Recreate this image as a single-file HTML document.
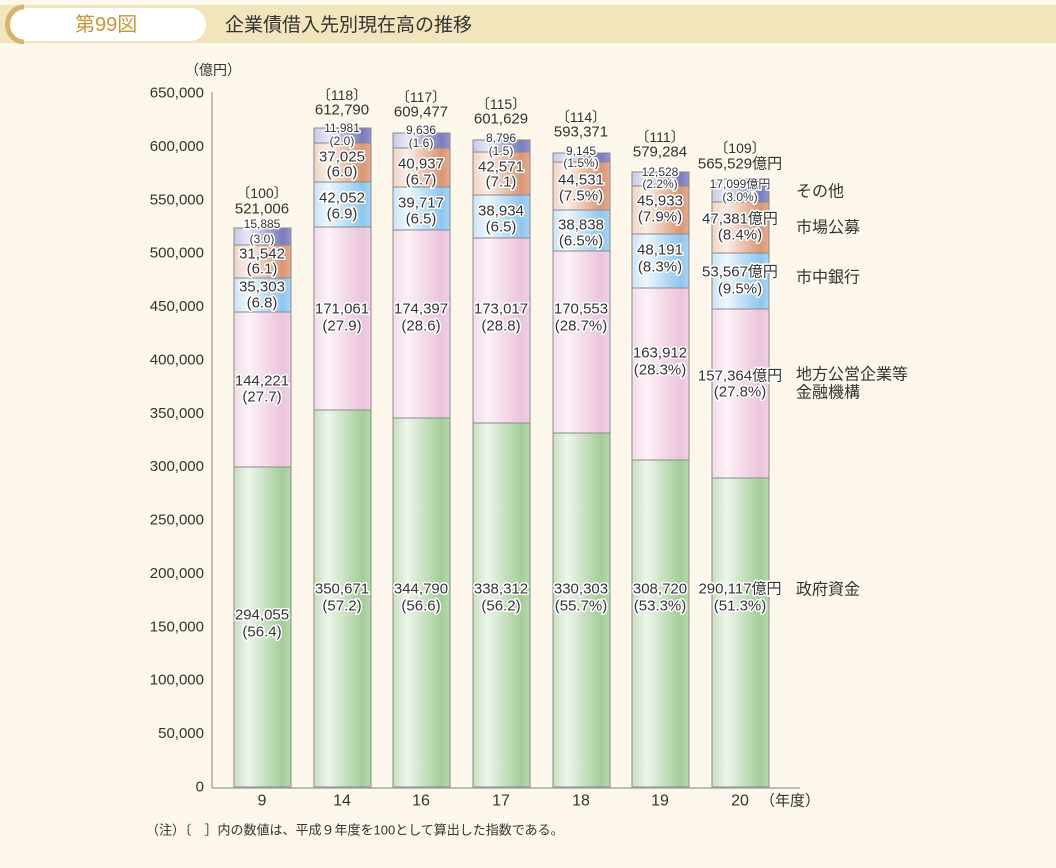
<!DOCTYPE html>
<html><head><meta charset="utf-8"><style>
body{margin:0;background:#fcf7ea;width:1056px;height:863px;overflow:hidden;font-family:"Liberation Sans","Noto Sans CJK JP",sans-serif}
</style></head><body>
<svg width="1056" height="863" xmlns="http://www.w3.org/2000/svg" font-family="Liberation Sans, Noto Sans CJK JP, sans-serif">
<defs>
<linearGradient id="g" x1="0" x2="1"><stop offset="0" stop-color="#c6dfbd"/><stop offset=".25" stop-color="#eef5ec"/><stop offset=".85" stop-color="#a3cd98"/><stop offset="1" stop-color="#b9d9b0"/></linearGradient>
<linearGradient id="p" x1="0" x2="1"><stop offset="0" stop-color="#f3dbe8"/><stop offset=".25" stop-color="#fcf1f7"/><stop offset=".85" stop-color="#ebc4dc"/><stop offset="1" stop-color="#f0d2e3"/></linearGradient>
<linearGradient id="b" x1="0" x2="1"><stop offset="0" stop-color="#c9e3f7"/><stop offset=".25" stop-color="#eef7fd"/><stop offset=".85" stop-color="#8ec6ef"/><stop offset="1" stop-color="#acd4f2"/></linearGradient>
<linearGradient id="o" x1="0" x2="1"><stop offset="0" stop-color="#f0d2c3"/><stop offset=".25" stop-color="#fbeee6"/><stop offset=".85" stop-color="#da9675"/><stop offset="1" stop-color="#e3ad92"/></linearGradient>
<linearGradient id="v" x1="0" x2="1"><stop offset="0" stop-color="#c8c9e8"/><stop offset=".25" stop-color="#e6e7f5"/><stop offset=".85" stop-color="#7a7cbc"/><stop offset="1" stop-color="#9596cb"/></linearGradient>
</defs>
<rect x="0" y="5" width="1056" height="38" fill="#f3e5bb"/>
<rect x="8" y="8" width="198" height="33" rx="16" fill="#fff"/>
<path d="M24 7 A16 17 0 0 0 24 42" fill="none" stroke="#d7b370" stroke-width="5"/>
<text x="75" y="31" font-size="20" fill="#c8963c">第99図</text>
<text x="225" y="31" font-size="19" fill="#333">企業債借入先別現在高の推移</text>
<rect x="6" y="44" width="1044" height="814" fill="#fcf7ea"/>
<g id="chart"></g>
</svg>
<script>
const NS="http://www.w3.org/2000/svg",C=document.getElementById('chart');
function el(t,a,txt){const e=document.createElementNS(NS,t);for(const k in a)e.setAttribute(k,a[k]);if(txt!=null)e.textContent=txt;C.appendChild(e);return e;}
function T(x,y,s,fs,halo,anchor){const a={x:x,y:y,'font-size':fs||14,fill:'#333','text-anchor':anchor||'middle','dominant-baseline':'central'};if(halo){a.stroke='#fff';a['stroke-width']=3;a['paint-order']='stroke';a['stroke-linejoin']='round';}el('text',a,s);}
const y0=787,k=694/650;
for(let i=0;i<=13;i++){const v=i*50000;T(204,y0-i*50*k,v.toLocaleString('en-US'),15,false,'end');}
el('line',{x1:212,y1:92,x2:212,y2:788,stroke:'#aaa','stroke-width':1.5});
el('line',{x1:212,y1:788,x2:800,y2:788,stroke:'#aaa','stroke-width':1.5});
T(185,70,'（億円）',14,false,'start');
const bars=[
{x:262,c:'9',b:[228,245,278,312,467],idx:'〔100〕',tot:'521,006',ty:[193,209],
 L:[['15,885','(3.0)',224,239,12],['31,542','(6.1)',254,269,15],['35,303','(6.8)',287,303,15],['144,221','(27.7)',381,397,15],['294,055','(56.4)',615,632,15]]},
{x:342,c:'14',b:[128,143,182,227,410],idx:'〔118〕',tot:'612,790',ty:[95,110],
 L:[['11,981','(2.0)',128,141,12],['37,025','(6.0)',157,172,15],['42,052','(6.9)',198,214,15],['171,061','(27.9)',309,326,15],['350,671','(57.2)',589,606,15]]},
{x:421,c:'16',b:[133,148,187,230,418],idx:'〔117〕',tot:'609,477',ty:[97,112],
 L:[['9,636','(1.6)',130,143,12],['40,937','(6.7)',164,180,15],['39,717','(6.5)',203,219,15],['174,397','(28.6)',309,326,15],['344,790','(56.6)',589,606,15]]},
{x:501,c:'17',b:[140,152,195,238,423],idx:'〔115〕',tot:'601,629',ty:[104,119],
 L:[['8,796','(1.5)',138,151,12],['42,571','(7.1)',167,182,15],['38,934','(6.5)',211,227,15],['173,017','(28.8)',309,326,15],['338,312','(56.2)',589,606,15]]},
{x:581,c:'18',b:[153,162,210,251,433],idx:'〔114〕',tot:'593,371',ty:[117,132],
 L:[['9,145','(1.5%)',151,163,12],['44,531','(7.5%)',180,196,15],['38,838','(6.5%)',225,241,15],['170,553','(28.7%)',309,326,15],['330,303','(55.7%)',589,606,15]]},
{x:660,c:'19',b:[172,186,234,288,460],idx:'〔111〕',tot:'579,284',ty:[137,152],
 L:[['12,528','(2.2%)',172,184,12],['45,933','(7.9%)',201,217,15],['48,191','(8.3%)',250,267,15],['163,912','(28.3%)',353,370,15],['308,720','(53.3%)',589,606,15]]},
{x:740,c:'20',b:[179,202,253,309,478],idx:'〔109〕',tot:'565,529億円',ty:[148,164],
 L:[['17,099億円','(3.0%)',184,197,12],['47,381億円','(8.4%)',219,235,15],['53,567億円','(9.5%)',272,289,15],['157,364億円','(27.8%)',376,392,15],['290,117億円','(51.3%)',589,606,15]]}
];
const fills=['v','o','b','p','g'];
bars.forEach(B=>{
 const xs=B.x-28,w=57;const bb=B.b.concat([787]);
 for(let i=0;i<5;i++){el('rect',{x:xs,y:bb[i],width:w,height:bb[i+1]-bb[i],fill:'url(#'+fills[i]+')',stroke:'#8a8a8a','stroke-width':1});}
 T(B.x,B.ty[0],B.idx,14);T(B.x,B.ty[1],B.tot,15);
 B.L.forEach(l=>{T(B.x,l[2],l[0],l[4],true);T(B.x,l[3],l[1],l[4],true);});
 T(B.x,801,B.c,16);
});
T(760,801,'（年度）',15,false,'start');
[['その他',192],['市場公募',228],['市中銀行',278],['地方公営企業等',375],['金融機構',393],['政府資金',590]].forEach(a=>T(796,a[1],a[0],16,false,'start'));
T(146,830,'（注）〔　］内の数値は、平成９年度を100として算出した指数である。',13,false,'start');
</script>
</body></html>
